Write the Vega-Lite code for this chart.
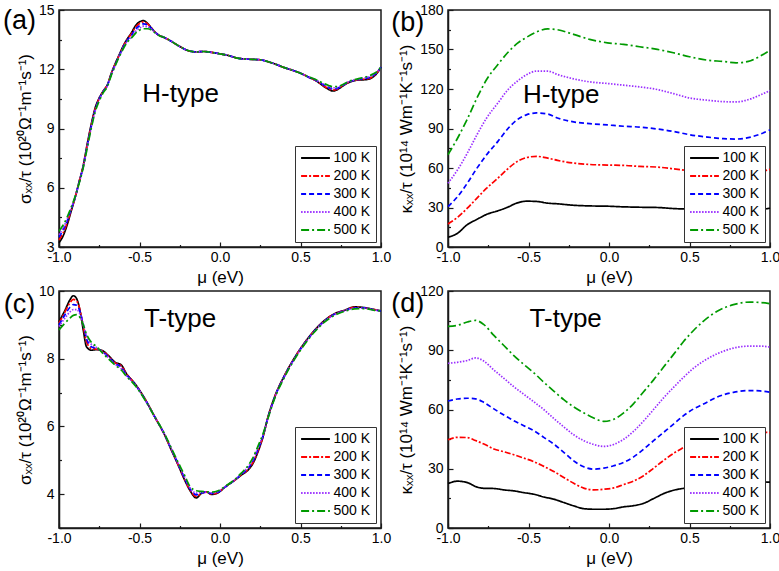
{
  "$schema": "https://vega.github.io/schema/vega-lite/v6.json",
  "padding": {"left": 2, "top": 2, "right": 0, "bottom": 0},
  "background": "white",
  "datasets": {
    "a": [
      {"mu": -1.0, "100 K": 3.22, "200 K": 3.35, "300 K": 3.5, "400 K": 3.62, "500 K": 3.8},
      {"mu": -0.975, "100 K": 3.55, "200 K": 3.7, "300 K": 3.85, "400 K": 3.95, "500 K": 4.1},
      {"mu": -0.95, "100 K": 4.1, "200 K": 4.2, "300 K": 4.3, "400 K": 4.4, "500 K": 4.5},
      {"mu": -0.925, "100 K": 4.8, "200 K": 4.85, "300 K": 4.9, "400 K": 4.95, "500 K": 5.0},
      {"mu": -0.9, "100 K": 5.5, "200 K": 5.5, "300 K": 5.5, "400 K": 5.52, "500 K": 5.55},
      {"mu": -0.875, "100 K": 6.3, "200 K": 6.3, "300 K": 6.28, "400 K": 6.25, "500 K": 6.22},
      {"mu": -0.85, "100 K": 7.1, "200 K": 7.08, "300 K": 7.05, "400 K": 7.02, "500 K": 7.0},
      {"mu": -0.825, "100 K": 8.2, "200 K": 8.15, "300 K": 8.1, "400 K": 8.05, "500 K": 8.0},
      {"mu": -0.8, "100 K": 9.2, "200 K": 9.15, "300 K": 9.1, "400 K": 9.05, "500 K": 9.0},
      {"mu": -0.775, "100 K": 10.05, "200 K": 10.0, "300 K": 9.95, "400 K": 9.9, "500 K": 9.85},
      {"mu": -0.75, "100 K": 10.55, "200 K": 10.52, "300 K": 10.5, "400 K": 10.45, "500 K": 10.4},
      {"mu": -0.725, "100 K": 10.9, "200 K": 10.9, "300 K": 10.88, "400 K": 10.85, "500 K": 10.82},
      {"mu": -0.7, "100 K": 11.2, "200 K": 11.2, "300 K": 11.18, "400 K": 11.15, "500 K": 11.12},
      {"mu": -0.675, "100 K": 11.8, "200 K": 11.78, "300 K": 11.75, "400 K": 11.72, "500 K": 11.7},
      {"mu": -0.65, "100 K": 12.3, "200 K": 12.28, "300 K": 12.25, "400 K": 12.22, "500 K": 12.2},
      {"mu": -0.625, "100 K": 12.75, "200 K": 12.72, "300 K": 12.7, "400 K": 12.68, "500 K": 12.65},
      {"mu": -0.6, "100 K": 13.2, "200 K": 13.18, "300 K": 13.15, "400 K": 13.1, "500 K": 13.05},
      {"mu": -0.575, "100 K": 13.55, "200 K": 13.52, "300 K": 13.48, "400 K": 13.42, "500 K": 13.38},
      {"mu": -0.55, "100 K": 13.85, "200 K": 13.8, "300 K": 13.72, "400 K": 13.65, "500 K": 13.58},
      {"mu": -0.525, "100 K": 14.2, "200 K": 14.12, "300 K": 14.02, "400 K": 13.92, "500 K": 13.82},
      {"mu": -0.5, "100 K": 14.4, "200 K": 14.32, "300 K": 14.2, "400 K": 14.08, "500 K": 13.98},
      {"mu": -0.475, "100 K": 14.46, "200 K": 14.4, "300 K": 14.3, "400 K": 14.18, "500 K": 14.05},
      {"mu": -0.45, "100 K": 14.32, "200 K": 14.3, "300 K": 14.25, "400 K": 14.15, "500 K": 14.05},
      {"mu": -0.425, "100 K": 14.08, "200 K": 14.08, "300 K": 14.06, "400 K": 14.02, "500 K": 13.98},
      {"mu": -0.4, "100 K": 13.85, "200 K": 13.85, "300 K": 13.85, "400 K": 13.84, "500 K": 13.82},
      {"mu": -0.375, "100 K": 13.7, "200 K": 13.7, "300 K": 13.7, "400 K": 13.7, "500 K": 13.7},
      {"mu": -0.35, "100 K": 13.62, "200 K": 13.62, "300 K": 13.62, "400 K": 13.62, "500 K": 13.62},
      {"mu": -0.3, "100 K": 13.4, "200 K": 13.4, "300 K": 13.4, "400 K": 13.4, "500 K": 13.4},
      {"mu": -0.25, "100 K": 13.15, "200 K": 13.15, "300 K": 13.15, "400 K": 13.15, "500 K": 13.15},
      {"mu": -0.2, "100 K": 12.95, "200 K": 12.95, "300 K": 12.95, "400 K": 12.95, "500 K": 12.95},
      {"mu": -0.15, "100 K": 12.88, "200 K": 12.88, "300 K": 12.88, "400 K": 12.88, "500 K": 12.88},
      {"mu": -0.1, "100 K": 12.9, "200 K": 12.9, "300 K": 12.9, "400 K": 12.9, "500 K": 12.9},
      {"mu": -0.05, "100 K": 12.85, "200 K": 12.85, "300 K": 12.85, "400 K": 12.85, "500 K": 12.85},
      {"mu": 0.0, "100 K": 12.78, "200 K": 12.78, "300 K": 12.78, "400 K": 12.78, "500 K": 12.78},
      {"mu": 0.05, "100 K": 12.7, "200 K": 12.7, "300 K": 12.7, "400 K": 12.7, "500 K": 12.7},
      {"mu": 0.1, "100 K": 12.58, "200 K": 12.58, "300 K": 12.58, "400 K": 12.58, "500 K": 12.58},
      {"mu": 0.15, "100 K": 12.52, "200 K": 12.52, "300 K": 12.52, "400 K": 12.52, "500 K": 12.52},
      {"mu": 0.2, "100 K": 12.5, "200 K": 12.5, "300 K": 12.5, "400 K": 12.5, "500 K": 12.5},
      {"mu": 0.25, "100 K": 12.48, "200 K": 12.48, "300 K": 12.48, "400 K": 12.48, "500 K": 12.48},
      {"mu": 0.3, "100 K": 12.38, "200 K": 12.38, "300 K": 12.38, "400 K": 12.38, "500 K": 12.38},
      {"mu": 0.35, "100 K": 12.24, "200 K": 12.24, "300 K": 12.24, "400 K": 12.24, "500 K": 12.24},
      {"mu": 0.4, "100 K": 12.08, "200 K": 12.08, "300 K": 12.08, "400 K": 12.08, "500 K": 12.08},
      {"mu": 0.45, "100 K": 11.95, "200 K": 11.95, "300 K": 11.95, "400 K": 11.95, "500 K": 11.95},
      {"mu": 0.5, "100 K": 11.8, "200 K": 11.8, "300 K": 11.8, "400 K": 11.8, "500 K": 11.8},
      {"mu": 0.55, "100 K": 11.6, "200 K": 11.6, "300 K": 11.6, "400 K": 11.61, "500 K": 11.62},
      {"mu": 0.6, "100 K": 11.4, "200 K": 11.41, "300 K": 11.42, "400 K": 11.44, "500 K": 11.46},
      {"mu": 0.625, "100 K": 11.25, "200 K": 11.27, "300 K": 11.3, "400 K": 11.33, "500 K": 11.36},
      {"mu": 0.65, "100 K": 11.1, "200 K": 11.13, "300 K": 11.17, "400 K": 11.22, "500 K": 11.26},
      {"mu": 0.675, "100 K": 10.98, "200 K": 11.02, "300 K": 11.07, "400 K": 11.12, "500 K": 11.18},
      {"mu": 0.7, "100 K": 10.9, "200 K": 10.95, "300 K": 11.0, "400 K": 11.06, "500 K": 11.12},
      {"mu": 0.725, "100 K": 10.95, "200 K": 10.98, "300 K": 11.02, "400 K": 11.07, "500 K": 11.12},
      {"mu": 0.75, "100 K": 11.08, "200 K": 11.1, "300 K": 11.12, "400 K": 11.15, "500 K": 11.18},
      {"mu": 0.775, "100 K": 11.22, "200 K": 11.23, "300 K": 11.24, "400 K": 11.26, "500 K": 11.28},
      {"mu": 0.8, "100 K": 11.33, "200 K": 11.34, "300 K": 11.35, "400 K": 11.37, "500 K": 11.38},
      {"mu": 0.825, "100 K": 11.4, "200 K": 11.41, "300 K": 11.42, "400 K": 11.43, "500 K": 11.45},
      {"mu": 0.85, "100 K": 11.45, "200 K": 11.46, "300 K": 11.47, "400 K": 11.48, "500 K": 11.5},
      {"mu": 0.875, "100 K": 11.46, "200 K": 11.48, "300 K": 11.5, "400 K": 11.52, "500 K": 11.55},
      {"mu": 0.9, "100 K": 11.47, "200 K": 11.5, "300 K": 11.53, "400 K": 11.56, "500 K": 11.6},
      {"mu": 0.925, "100 K": 11.5, "200 K": 11.53, "300 K": 11.57, "400 K": 11.62, "500 K": 11.66},
      {"mu": 0.95, "100 K": 11.6, "200 K": 11.63, "300 K": 11.67, "400 K": 11.72, "500 K": 11.76},
      {"mu": 0.975, "100 K": 11.8, "200 K": 11.82, "300 K": 11.84, "400 K": 11.86, "500 K": 11.88},
      {"mu": 1.0, "100 K": 12.1, "200 K": 12.1, "300 K": 12.1, "400 K": 12.1, "500 K": 12.1}
    ],
    "b": [
      {"mu": -1.0, "100 K": 7.4, "200 K": 17.5, "300 K": 30.7, "400 K": 48.5, "500 K": 70.1},
      {"mu": -0.94, "100 K": 10.5, "200 K": 22.6, "300 K": 38.3, "400 K": 58.7, "500 K": 82.8},
      {"mu": -0.88, "100 K": 17.0, "200 K": 29.5, "300 K": 48.5, "400 K": 71.3, "500 K": 97.2},
      {"mu": -0.82, "100 K": 21.0, "200 K": 37.1, "300 K": 59.9, "400 K": 85.3, "500 K": 113.2},
      {"mu": -0.76, "100 K": 24.8, "200 K": 44.7, "300 K": 70.1, "400 K": 98.0, "500 K": 127.2},
      {"mu": -0.69, "100 K": 27.5, "200 K": 52.3, "300 K": 80.2, "400 K": 109.4, "500 K": 138.6},
      {"mu": -0.63, "100 K": 30.2, "200 K": 59.2, "300 K": 89.6, "400 K": 119.1, "500 K": 147.5},
      {"mu": -0.57, "100 K": 33.5, "200 K": 65.0, "300 K": 96.7, "400 K": 125.9, "500 K": 154.6},
      {"mu": -0.51, "100 K": 34.8, "200 K": 68.0, "300 K": 100.5, "400 K": 131.0, "500 K": 159.4},
      {"mu": -0.45, "100 K": 34.6, "200 K": 68.8, "300 K": 101.8, "400 K": 133.6, "500 K": 163.3},
      {"mu": -0.38, "100 K": 33.3, "200 K": 67.5, "300 K": 101.0, "400 K": 133.6, "500 K": 165.6},
      {"mu": -0.32, "100 K": 32.8, "200 K": 65.8, "300 K": 98.0, "400 K": 131.0, "500 K": 165.0},
      {"mu": -0.22, "100 K": 31.7, "200 K": 63.7, "300 K": 95.0, "400 K": 127.7, "500 K": 161.5},
      {"mu": -0.12, "100 K": 31.2, "200 K": 62.7, "300 K": 93.7, "400 K": 125.4, "500 K": 157.7},
      {"mu": -0.01, "100 K": 31.0, "200 K": 62.2, "300 K": 92.7, "400 K": 124.2, "500 K": 155.1},
      {"mu": 0.09, "100 K": 30.5, "200 K": 62.0, "300 K": 91.7, "400 K": 122.9, "500 K": 153.9},
      {"mu": 0.19, "100 K": 30.2, "200 K": 61.2, "300 K": 91.1, "400 K": 121.6, "500 K": 152.1},
      {"mu": 0.3, "100 K": 30.0, "200 K": 60.7, "300 K": 89.6, "400 K": 119.6, "500 K": 150.1},
      {"mu": 0.4, "100 K": 29.2, "200 K": 59.4, "300 K": 87.8, "400 K": 116.5, "500 K": 147.5},
      {"mu": 0.5, "100 K": 28.7, "200 K": 57.8, "300 K": 85.3, "400 K": 113.2, "500 K": 144.5},
      {"mu": 0.61, "100 K": 27.8, "200 K": 55.8, "300 K": 83.5, "400 K": 111.5, "500 K": 141.9},
      {"mu": 0.71, "100 K": 27.0, "200 K": 54.6, "300 K": 82.3, "400 K": 110.4, "500 K": 140.9},
      {"mu": 0.79, "100 K": 26.8, "200 K": 54.3, "300 K": 82.0, "400 K": 110.2, "500 K": 139.9},
      {"mu": 0.88, "100 K": 27.5, "200 K": 55.5, "300 K": 83.5, "400 K": 112.5, "500 K": 141.5},
      {"mu": 0.94, "100 K": 28.3, "200 K": 57.0, "300 K": 85.8, "400 K": 115.5, "500 K": 145.0},
      {"mu": 1.0, "100 K": 29.5, "200 K": 59.0, "300 K": 88.9, "400 K": 118.8, "500 K": 149.3}
    ],
    "c": [
      {"mu": -1.0, "100 K": 9.09, "200 K": 9.05, "300 K": 9.0, "400 K": 8.95, "500 K": 8.85},
      {"mu": -0.963, "100 K": 9.43, "200 K": 9.38, "300 K": 9.3, "400 K": 9.2, "500 K": 9.05},
      {"mu": -0.932, "100 K": 9.74, "200 K": 9.65, "300 K": 9.52, "400 K": 9.38, "500 K": 9.2},
      {"mu": -0.911, "100 K": 9.86, "200 K": 9.75, "300 K": 9.6, "400 K": 9.45, "500 K": 9.28},
      {"mu": -0.89, "100 K": 9.77, "200 K": 9.7, "300 K": 9.58, "400 K": 9.45, "500 K": 9.3},
      {"mu": -0.87, "100 K": 9.43, "200 K": 9.45, "300 K": 9.4, "400 K": 9.32, "500 K": 9.22},
      {"mu": -0.849, "100 K": 8.84, "200 K": 8.95, "300 K": 9.0, "400 K": 9.02, "500 K": 9.0},
      {"mu": -0.829, "100 K": 8.35, "200 K": 8.5, "300 K": 8.6, "400 K": 8.68, "500 K": 8.72},
      {"mu": -0.798, "100 K": 8.25, "200 K": 8.3, "300 K": 8.35, "400 K": 8.42, "500 K": 8.48},
      {"mu": -0.767, "100 K": 8.27, "200 K": 8.28, "300 K": 8.3, "400 K": 8.33, "500 K": 8.36},
      {"mu": -0.736, "100 K": 8.25, "200 K": 8.24, "300 K": 8.23, "400 K": 8.22, "500 K": 8.2},
      {"mu": -0.694, "100 K": 8.1, "200 K": 8.08, "300 K": 8.06, "400 K": 8.04, "500 K": 8.0},
      {"mu": -0.653, "100 K": 7.9, "200 K": 7.88, "300 K": 7.86, "400 K": 7.84, "500 K": 7.82},
      {"mu": -0.612, "100 K": 7.81, "200 K": 7.78, "300 K": 7.74, "400 K": 7.7, "500 K": 7.66},
      {"mu": -0.581, "100 K": 7.56, "200 K": 7.55, "300 K": 7.53, "400 K": 7.5, "500 K": 7.48},
      {"mu": -0.529, "100 K": 7.27, "200 K": 7.26, "300 K": 7.25, "400 K": 7.24, "500 K": 7.22},
      {"mu": -0.467, "100 K": 6.82, "200 K": 6.82, "300 K": 6.81, "400 K": 6.8, "500 K": 6.79},
      {"mu": -0.405, "100 K": 6.28, "200 K": 6.28, "300 K": 6.28, "400 K": 6.28, "500 K": 6.28},
      {"mu": -0.343, "100 K": 5.74, "200 K": 5.74, "300 K": 5.75, "400 K": 5.76, "500 K": 5.77},
      {"mu": -0.302, "100 K": 5.3, "200 K": 5.31, "300 K": 5.32, "400 K": 5.34, "500 K": 5.36},
      {"mu": -0.26, "100 K": 4.86, "200 K": 4.87, "300 K": 4.89, "400 K": 4.91, "500 K": 4.94},
      {"mu": -0.219, "100 K": 4.41, "200 K": 4.43, "300 K": 4.46, "400 K": 4.5, "500 K": 4.55},
      {"mu": -0.188, "100 K": 4.12, "200 K": 4.14, "300 K": 4.17, "400 K": 4.2, "500 K": 4.24},
      {"mu": -0.147, "100 K": 3.89, "200 K": 3.93, "300 K": 3.98, "400 K": 4.03, "500 K": 4.1},
      {"mu": -0.116, "100 K": 4.02, "200 K": 4.02, "300 K": 4.03, "400 K": 4.05, "500 K": 4.08},
      {"mu": -0.085, "100 K": 4.07, "200 K": 4.06, "300 K": 4.06, "400 K": 4.06, "500 K": 4.07},
      {"mu": -0.054, "100 K": 3.99, "200 K": 4.0, "300 K": 4.02, "400 K": 4.04, "500 K": 4.06},
      {"mu": -0.012, "100 K": 4.04, "200 K": 4.05, "300 K": 4.06, "400 K": 4.08, "500 K": 4.1},
      {"mu": 0.029, "100 K": 4.2, "200 K": 4.2, "300 K": 4.2, "400 K": 4.21, "500 K": 4.22},
      {"mu": 0.091, "100 K": 4.41, "200 K": 4.41, "300 K": 4.41, "400 K": 4.42, "500 K": 4.43},
      {"mu": 0.132, "100 K": 4.56, "200 K": 4.57, "300 K": 4.58, "400 K": 4.6, "500 K": 4.62},
      {"mu": 0.174, "100 K": 4.71, "200 K": 4.73, "300 K": 4.76, "400 K": 4.8, "500 K": 4.84},
      {"mu": 0.205, "100 K": 4.91, "200 K": 4.94, "300 K": 4.98, "400 K": 5.03, "500 K": 5.08},
      {"mu": 0.236, "100 K": 5.25, "200 K": 5.28, "300 K": 5.32, "400 K": 5.37, "500 K": 5.42},
      {"mu": 0.267, "100 K": 5.69, "200 K": 5.7, "300 K": 5.72, "400 K": 5.75, "500 K": 5.78},
      {"mu": 0.298, "100 K": 6.28, "200 K": 6.27, "300 K": 6.26, "400 K": 6.25, "500 K": 6.24},
      {"mu": 0.339, "100 K": 6.87, "200 K": 6.86, "300 K": 6.85, "400 K": 6.84, "500 K": 6.82},
      {"mu": 0.401, "100 K": 7.51, "200 K": 7.5, "300 K": 7.49, "400 K": 7.48, "500 K": 7.46},
      {"mu": 0.463, "100 K": 8.03, "200 K": 8.02, "300 K": 8.01, "400 K": 8.0, "500 K": 7.98},
      {"mu": 0.525, "100 K": 8.47, "200 K": 8.46, "300 K": 8.45, "400 K": 8.44, "500 K": 8.42},
      {"mu": 0.587, "100 K": 8.84, "200 K": 8.83, "300 K": 8.82, "400 K": 8.81, "500 K": 8.79},
      {"mu": 0.649, "100 K": 9.13, "200 K": 9.12, "300 K": 9.11, "400 K": 9.1, "500 K": 9.08},
      {"mu": 0.711, "100 K": 9.33, "200 K": 9.32, "300 K": 9.31, "400 K": 9.3, "500 K": 9.28},
      {"mu": 0.773, "100 K": 9.43, "200 K": 9.43, "300 K": 9.42, "400 K": 9.41, "500 K": 9.4},
      {"mu": 0.835, "100 K": 9.53, "200 K": 9.52, "300 K": 9.5, "400 K": 9.49, "500 K": 9.47},
      {"mu": 0.897, "100 K": 9.51, "200 K": 9.5, "300 K": 9.5, "400 K": 9.49, "500 K": 9.48},
      {"mu": 0.959, "100 K": 9.45, "200 K": 9.45, "300 K": 9.44, "400 K": 9.44, "500 K": 9.43},
      {"mu": 1.0, "100 K": 9.41, "200 K": 9.41, "300 K": 9.41, "400 K": 9.41, "500 K": 9.41}
    ],
    "d": [
      {"mu": -1.0, "100 K": 22.5, "200 K": 44.7, "300 K": 64.3, "400 K": 83.4, "500 K": 102.1},
      {"mu": -0.942, "100 K": 23.7, "200 K": 45.9, "300 K": 65.3, "400 K": 83.9, "500 K": 102.6},
      {"mu": -0.88, "100 K": 23.0, "200 K": 45.8, "300 K": 65.7, "400 K": 84.8, "500 K": 104.3},
      {"mu": -0.829, "100 K": 21.0, "200 K": 44.3, "300 K": 65.4, "400 K": 86.1, "500 K": 105.1},
      {"mu": -0.777, "100 K": 20.1, "200 K": 42.5, "300 K": 63.6, "400 K": 84.5, "500 K": 103.0},
      {"mu": -0.715, "100 K": 20.0, "200 K": 40.0, "300 K": 60.3, "400 K": 80.0, "500 K": 97.5},
      {"mu": -0.653, "100 K": 19.3, "200 K": 38.6, "300 K": 57.2, "400 K": 75.8, "500 K": 92.4},
      {"mu": -0.591, "100 K": 18.8, "200 K": 37.1, "300 K": 54.3, "400 K": 71.5, "500 K": 87.3},
      {"mu": -0.529, "100 K": 17.9, "200 K": 35.4, "300 K": 51.8, "400 K": 67.7, "500 K": 82.8},
      {"mu": -0.467, "100 K": 17.1, "200 K": 33.6, "300 K": 49.3, "400 K": 63.9, "500 K": 78.6},
      {"mu": -0.405, "100 K": 15.7, "200 K": 31.2, "300 K": 45.9, "400 K": 60.0, "500 K": 73.8},
      {"mu": -0.343, "100 K": 14.6, "200 K": 28.6, "300 K": 42.5, "400 K": 55.5, "500 K": 69.3},
      {"mu": -0.281, "100 K": 12.9, "200 K": 25.6, "300 K": 38.3, "400 K": 51.2, "500 K": 65.0},
      {"mu": -0.219, "100 K": 11.2, "200 K": 22.6, "300 K": 34.0, "400 K": 47.2, "500 K": 61.3},
      {"mu": -0.157, "100 K": 9.8, "200 K": 20.2, "300 K": 31.0, "400 K": 44.2, "500 K": 58.3},
      {"mu": -0.095, "100 K": 9.5, "200 K": 19.3, "300 K": 29.8, "400 K": 42.3, "500 K": 55.7},
      {"mu": -0.033, "100 K": 9.5, "200 K": 19.6, "300 K": 30.3, "400 K": 41.3, "500 K": 54.0},
      {"mu": 0.029, "100 K": 9.8, "200 K": 20.3, "300 K": 31.5, "400 K": 42.3, "500 K": 55.0},
      {"mu": 0.091, "100 K": 10.7, "200 K": 22.0, "300 K": 33.2, "400 K": 44.9, "500 K": 58.3},
      {"mu": 0.153, "100 K": 11.3, "200 K": 23.8, "300 K": 36.0, "400 K": 49.0, "500 K": 63.0},
      {"mu": 0.215, "100 K": 12.5, "200 K": 26.5, "300 K": 39.9, "400 K": 54.2, "500 K": 69.0},
      {"mu": 0.277, "100 K": 14.9, "200 K": 30.3, "300 K": 44.2, "400 K": 60.0, "500 K": 75.0},
      {"mu": 0.339, "100 K": 17.4, "200 K": 34.2, "300 K": 48.4, "400 K": 65.9, "500 K": 81.5},
      {"mu": 0.401, "100 K": 19.1, "200 K": 37.8, "300 K": 52.6, "400 K": 71.2, "500 K": 87.9},
      {"mu": 0.463, "100 K": 20.1, "200 K": 40.8, "300 K": 56.9, "400 K": 76.3, "500 K": 94.4},
      {"mu": 0.525, "100 K": 21.0, "200 K": 44.5, "300 K": 60.3, "400 K": 80.9, "500 K": 100.0},
      {"mu": 0.587, "100 K": 21.8, "200 K": 46.5, "300 K": 62.8, "400 K": 84.5, "500 K": 104.8},
      {"mu": 0.669, "100 K": 22.6, "200 K": 47.8, "300 K": 66.2, "400 K": 88.1, "500 K": 109.6},
      {"mu": 0.773, "100 K": 23.2, "200 K": 48.5, "300 K": 68.7, "400 K": 91.1, "500 K": 113.1},
      {"mu": 0.876, "100 K": 23.5, "200 K": 48.8, "300 K": 69.6, "400 K": 92.1, "500 K": 114.4},
      {"mu": 0.938, "100 K": 23.4, "200 K": 48.6, "300 K": 69.4, "400 K": 92.1, "500 K": 114.2},
      {"mu": 1.0, "100 K": 23.2, "200 K": 48.3, "300 K": 68.7, "400 K": 91.6, "500 K": 113.6}
    ]
  },
  "vconcat": [
    {
      "hconcat": [
        {
          "width": 322, "height": 237,
          "layer": [
            {
              "data": {"name": "a"},
              "transform": [{"fold": ["100 K", "200 K", "300 K", "400 K", "500 K"], "as": ["T", "v"]}],
              "mark": {"type": "line", "interpolate": "monotone", "strokeWidth": 1.7},
              "encoding": {
                "x": {"field": "mu", "type": "quantitative", "scale": {"domain": [-1, 1], "nice": false},
                  "axis": {"title": "μ (eV)", "values": [-1, -0.75, -0.5, -0.25, 0, 0.25, 0.5, 0.75, 1], "tickCount": 100,
                    "labelExpr": "abs(datum.value*2 - round(datum.value*2)) < 0.001 ? replace(format(datum.value, '.1f'), '−', '-') : ''",
                    "tickSize": {"condition": {"test": "abs(datum.value*2 - round(datum.value*2)) > 0.001", "value": -2.5}, "value": -5}}},
                "y": {"field": "v", "type": "quantitative", "scale": {"domain": [3, 15], "nice": false},
                  "axis": {"title": "σₓₓ/τ (10²⁰Ω⁻¹m⁻¹s⁻¹)", "values": [3, 4.5, 6, 7.5, 9, 10.5, 12, 13.5, 15], "tickCount": 100,
                    "labelExpr": "datum.value % 3 == 0 ? format(datum.value, 'd') : ''",
                    "tickSize": {"condition": {"test": "datum.value % 3 != 0", "value": -2.5}, "value": -5}}},
                "color": {"field": "T", "type": "nominal", "scale": {"domain": ["100 K", "200 K", "300 K", "400 K", "500 K"], "range": ["#000000", "#ff0000", "#0000ff", "#9b30ff", "#009a00"]}, "legend": {"title": null}},
                "strokeDash": {"field": "T", "type": "nominal", "scale": {"domain": ["100 K", "200 K", "300 K", "400 K", "500 K"], "range": [[1, 0], [6, 2, 2, 2], [5, 3], [1.5, 1.5], [8, 3, 2, 3]]}, "legend": {"title": null}}
              }
            },
            {"data": {"values": [{}]}, "mark": {"type": "text", "text": "(a)", "fontSize": 27, "color": "black"}, "encoding": {"x": {"datum": -1.245}, "y": {"datum": 14.42}}},
            {"data": {"values": [{}]}, "mark": {"type": "text", "text": "H-type", "fontSize": 26, "color": "black"}, "encoding": {"x": {"datum": -0.245}, "y": {"datum": 10.76}}}
          ]
        },
        {
          "width": 322, "height": 237,
          "layer": [
            {
              "data": {"name": "b"},
              "transform": [{"fold": ["100 K", "200 K", "300 K", "400 K", "500 K"], "as": ["T", "v"]}],
              "mark": {"type": "line", "interpolate": "monotone", "strokeWidth": 1.7},
              "encoding": {
                "x": {"field": "mu", "type": "quantitative", "scale": {"domain": [-1, 1], "nice": false},
                  "axis": {"title": "μ (eV)", "values": [-1, -0.75, -0.5, -0.25, 0, 0.25, 0.5, 0.75, 1], "tickCount": 100,
                    "labelExpr": "abs(datum.value*2 - round(datum.value*2)) < 0.001 ? replace(format(datum.value, '.1f'), '−', '-') : ''",
                    "tickSize": {"condition": {"test": "abs(datum.value*2 - round(datum.value*2)) > 0.001", "value": -2.5}, "value": -5}}},
                "y": {"field": "v", "type": "quantitative", "scale": {"domain": [0, 180], "nice": false},
                  "axis": {"title": "κₓₓ/τ (10¹⁴ Wm⁻¹K⁻¹s⁻¹)", "values": [0, 15, 30, 45, 60, 75, 90, 105, 120, 135, 150, 165, 180], "tickCount": 100,
                    "labelExpr": "datum.value % 30 == 0 ? format(datum.value, 'd') : ''",
                    "tickSize": {"condition": {"test": "datum.value % 30 != 0", "value": -2.5}, "value": -5}}},
                "color": {"field": "T", "type": "nominal", "scale": {"domain": ["100 K", "200 K", "300 K", "400 K", "500 K"], "range": ["#000000", "#ff0000", "#0000ff", "#9b30ff", "#009a00"]}, "legend": {"title": null}},
                "strokeDash": {"field": "T", "type": "nominal", "scale": {"domain": ["100 K", "200 K", "300 K", "400 K", "500 K"], "range": [[1, 0], [6, 2, 2, 2], [5, 3], [1.5, 1.5], [8, 3, 2, 3]]}, "legend": {"title": null}}
              }
            },
            {"data": {"values": [{}]}, "mark": {"type": "text", "text": "(b)", "fontSize": 27, "color": "black"}, "encoding": {"x": {"datum": -1.25}, "y": {"datum": 170.2}}},
            {"data": {"values": [{}]}, "mark": {"type": "text", "text": "H-type", "fontSize": 26, "color": "black"}, "encoding": {"x": {"datum": -0.297}, "y": {"datum": 115.5}}}
          ]
        }
      ],
      "spacing": -2,
      "resolve": {"scale": {"color": "independent", "strokeDash": "independent"}}
    },
    {
      "hconcat": [
        {
          "width": 322, "height": 237,
          "layer": [
            {
              "data": {"name": "c"},
              "transform": [{"fold": ["100 K", "200 K", "300 K", "400 K", "500 K"], "as": ["T", "v"]}],
              "mark": {"type": "line", "interpolate": "monotone", "strokeWidth": 1.7},
              "encoding": {
                "x": {"field": "mu", "type": "quantitative", "scale": {"domain": [-1, 1], "nice": false},
                  "axis": {"title": "μ (eV)", "values": [-1, -0.75, -0.5, -0.25, 0, 0.25, 0.5, 0.75, 1], "tickCount": 100,
                    "labelExpr": "abs(datum.value*2 - round(datum.value*2)) < 0.001 ? replace(format(datum.value, '.1f'), '−', '-') : ''",
                    "tickSize": {"condition": {"test": "abs(datum.value*2 - round(datum.value*2)) > 0.001", "value": -2.5}, "value": -5}}},
                "y": {"field": "v", "type": "quantitative", "scale": {"domain": [3, 10], "nice": false},
                  "axis": {"title": "σₓₓ/τ (10²⁰Ω⁻¹m⁻¹s⁻¹)", "values": [3, 4, 5, 6, 7, 8, 9, 10], "tickCount": 100,
                    "labelExpr": "datum.value % 2 == 0 ? format(datum.value, 'd') : ''",
                    "tickSize": {"condition": {"test": "datum.value % 2 != 0", "value": -2.5}, "value": -5}}},
                "color": {"field": "T", "type": "nominal", "scale": {"domain": ["100 K", "200 K", "300 K", "400 K", "500 K"], "range": ["#000000", "#ff0000", "#0000ff", "#9b30ff", "#009a00"]}, "legend": {"title": null}},
                "strokeDash": {"field": "T", "type": "nominal", "scale": {"domain": ["100 K", "200 K", "300 K", "400 K", "500 K"], "range": [[1, 0], [6, 2, 2, 2], [5, 3], [1.5, 1.5], [8, 3, 2, 3]]}, "legend": {"title": null}}
              }
            },
            {"data": {"values": [{}]}, "mark": {"type": "text", "text": "(c)", "fontSize": 27, "color": "black"}, "encoding": {"x": {"datum": -1.245}, "y": {"datum": 9.6}}},
            {"data": {"values": [{}]}, "mark": {"type": "text", "text": "T-type", "fontSize": 26, "color": "black"}, "encoding": {"x": {"datum": -0.248}, "y": {"datum": 9.18}}}
          ]
        },
        {
          "width": 322, "height": 237,
          "layer": [
            {
              "data": {"name": "d"},
              "transform": [{"fold": ["100 K", "200 K", "300 K", "400 K", "500 K"], "as": ["T", "v"]}],
              "mark": {"type": "line", "interpolate": "monotone", "strokeWidth": 1.7},
              "encoding": {
                "x": {"field": "mu", "type": "quantitative", "scale": {"domain": [-1, 1], "nice": false},
                  "axis": {"title": "μ (eV)", "values": [-1, -0.75, -0.5, -0.25, 0, 0.25, 0.5, 0.75, 1], "tickCount": 100,
                    "labelExpr": "abs(datum.value*2 - round(datum.value*2)) < 0.001 ? replace(format(datum.value, '.1f'), '−', '-') : ''",
                    "tickSize": {"condition": {"test": "abs(datum.value*2 - round(datum.value*2)) > 0.001", "value": -2.5}, "value": -5}}},
                "y": {"field": "v", "type": "quantitative", "scale": {"domain": [0, 120], "nice": false},
                  "axis": {"title": "κₓₓ/τ (10¹⁴ Wm⁻¹K⁻¹s⁻¹)", "values": [0, 15, 30, 45, 60, 75, 90, 105, 120], "tickCount": 100,
                    "labelExpr": "datum.value % 30 == 0 ? format(datum.value, 'd') : ''",
                    "tickSize": {"condition": {"test": "datum.value % 30 != 0", "value": -2.5}, "value": -5}}},
                "color": {"field": "T", "type": "nominal", "scale": {"domain": ["100 K", "200 K", "300 K", "400 K", "500 K"], "range": ["#000000", "#ff0000", "#0000ff", "#9b30ff", "#009a00"]}, "legend": {"title": null}},
                "strokeDash": {"field": "T", "type": "nominal", "scale": {"domain": ["100 K", "200 K", "300 K", "400 K", "500 K"], "range": [[1, 0], [6, 2, 2, 2], [5, 3], [1.5, 1.5], [8, 3, 2, 3]]}, "legend": {"title": null}}
              }
            },
            {"data": {"values": [{}]}, "mark": {"type": "text", "text": "(d)", "fontSize": 27, "color": "black"}, "encoding": {"x": {"datum": -1.25}, "y": {"datum": 113.2}}},
            {"data": {"values": [{}]}, "mark": {"type": "text", "text": "T-type", "fontSize": 26, "color": "black"}, "encoding": {"x": {"datum": -0.269}, "y": {"datum": 105.9}}}
          ]
        }
      ],
      "spacing": -2,
      "resolve": {"scale": {"color": "independent", "strokeDash": "independent"}}
    }
  ],
  "spacing": -4,
  "resolve": {"scale": {"color": "independent", "strokeDash": "independent"}},
  "config": {
    "font": "Liberation Sans",
    "view": {"stroke": "#1a1a1a", "strokeWidth": 1.5},
    "axis": {"grid": false, "domainColor": "#1a1a1a", "domainWidth": 1.5, "tickColor": "#1a1a1a", "tickWidth": 1.2,
      "labelFont": "Liberation Sans", "labelFontSize": 14, "labelColor": "black",
      "titleFont": "Liberation Sans", "titleFontSize": 17, "titleFontWeight": "normal", "titleColor": "black",
      "labelFlush": false, "labelOverlap": false},
    "axisX": {"labelPadding": 8, "titlePadding": 3},
    "axisY": {"labelPadding": 10, "titlePadding": 4},
    "legend": {"orient": "bottom-right", "offset": 5, "fillColor": "white", "strokeColor": "#333333", "padding": 5,
      "symbolType": "M-2.4,0H2.4", "symbolSize": 144, "symbolOffset": 8.5, "symbolStrokeWidth": 1.8, "labelFont": "Liberation Sans",
      "labelFontSize": 14, "labelColor": "black", "labelOffset": 11, "rowPadding": 4},
    "text": {"font": "Liberation Sans"}
  }
}
